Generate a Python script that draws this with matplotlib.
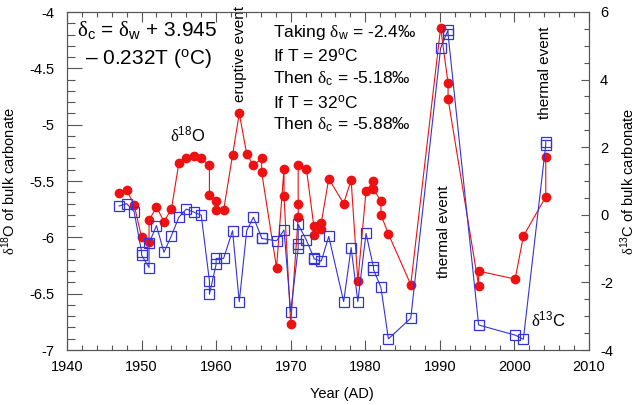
import matplotlib
matplotlib.use("Agg")
import matplotlib.pyplot as plt
from matplotlib.ticker import MultipleLocator

plt.rcParams['font.family'] = ['Liberation Sans', 'DejaVu Sans']
plt.rcParams['mathtext.fontset'] = 'custom'
plt.rcParams['mathtext.rm'] = 'Liberation Serif'
plt.rcParams['mathtext.sf'] = 'Liberation Sans'
plt.rcParams['mathtext.it'] = 'Liberation Sans:italic'

# delta 18O (left axis)
o18_year = [1947.0, 1948.0, 1949.0, 1950.0, 1951.0, 1951.0, 1952.0, 1953.0, 1954.0,
            1955.0, 1956.0, 1957.0, 1958.0, 1959.1, 1959.1, 1960.0, 1960.0, 1961.0,
            1962.2, 1963.1, 1964.1, 1965.0, 1966.1, 1966.1, 1968.1, 1969.1, 1969.1,
            1970.0, 1971.0, 1971.0, 1971.0, 1972.1, 1973.1, 1973.1, 1974.1, 1974.1,
            1975.1, 1977.1, 1978.1, 1979.0, 1980.1, 1981.1, 1981.1, 1982.1, 1982.1,
            1983.1, 1986.1, 1990.1, 1991.1, 1991.1, 1995.2, 1995.2, 2000.1, 2001.2,
            2004.2, 2004.2]
o18_val = [-5.61, -5.58, -5.71, -6.00, -6.04, -5.85, -5.73, -5.86, -5.75,
           -5.34, -5.30, -5.28, -5.30, -5.36, -5.62, -5.68, -5.76, -5.76,
           -5.27, -4.90, -5.26, -5.36, -5.30, -5.42, -6.27, -5.39, -5.63,
           -6.77, -5.82, -5.70, -5.36, -5.39, -5.90, -5.98, -5.93, -5.87,
           -5.48, -5.70, -5.49, -6.39, -5.59, -5.50, -5.57, -5.68, -5.80,
           -5.97, -6.42, -4.14, -4.63, -4.77, -6.43, -6.30, -6.37, -5.99,
           -5.64, -5.29]

# delta 13C (right axis)
c13_year = [1947.0, 1948.0, 1949.0, 1950.0, 1950.0, 1951.0, 1951.0, 1952.0, 1953.0,
            1954.0, 1955.0, 1956.0, 1957.0, 1958.0, 1959.1, 1959.1, 1960.0, 1960.0,
            1961.0, 1962.2, 1963.1, 1964.1, 1965.0, 1966.1, 1966.1, 1968.1, 1969.1,
            1970.0, 1971.0, 1971.0, 1971.0, 1972.1, 1973.1, 1973.1, 1974.1, 1975.1,
            1977.1, 1978.1, 1979.0, 1980.1, 1981.1, 1981.1, 1982.1, 1983.1, 1986.1,
            1990.1, 1991.1, 1991.1, 1995.2, 2000.1, 2001.2, 2004.2, 2004.2]
c13_val = [0.26, 0.33, 0.09, -1.09, -1.19, -1.56, -0.84, -0.32, -1.11,
           -0.62, -0.07, 0.17, 0.08, -0.01, -1.96, -2.35, -1.46, -1.29,
           -1.29, -0.47, -2.57, -0.47, -0.07, -0.68, -0.70, -0.77, -0.45,
           -2.87, -0.99, -0.87, -0.28, -0.75, -1.27, -1.30, -1.37, -0.64,
           -2.57, -0.97, -2.57, -0.55, -1.55, -1.62, -2.15, -3.67, -3.06,
           4.93, 5.47, 5.35, -3.26, -3.56, -3.68, 2.07, 2.16]

red = '#ee1111'
blue = '#3333dd'

fig = plt.figure(figsize=(6.39, 4.05), dpi=100)
ax = fig.add_axes([67 / 639, 1 - 350 / 405, 522 / 639, 338 / 405])
ax2 = ax.twinx()

ax.plot(o18_year, o18_val, '-', color=red, lw=0.8)
ax.plot(o18_year, o18_val, 'o', color=red, ms=6, mec=red)
ax2.plot(c13_year, c13_val, '-', color=blue, lw=0.8)
ax2.plot(c13_year, c13_val, 's', mfc='none', mec=blue, ms=6.5, mew=0.9)

ax.set_xlim(1940, 2010)
ax.set_ylim(-7, -4)
ax2.set_ylim(-4, 6)

ax.xaxis.set_major_locator(MultipleLocator(10))
ax.xaxis.set_minor_locator(MultipleLocator(2))
ax.yaxis.set_major_locator(MultipleLocator(0.5))
ax.yaxis.set_minor_locator(MultipleLocator(0.1))
ax2.yaxis.set_major_locator(MultipleLocator(2))
ax2.yaxis.set_minor_locator(MultipleLocator(0.5))
ax.yaxis.set_major_formatter(plt.FuncFormatter(lambda v, p: f'{v:g}'))
ax2.yaxis.set_major_formatter(plt.FuncFormatter(lambda v, p: f'{v:g}'))

ax.tick_params(axis='x', which='both', direction='in', top=True, labelsize=10.5, pad=7)
ax.tick_params(axis='x', which='major', length=7, width=0.8)
ax.tick_params(axis='x', which='minor', length=3.5, width=0.8)
ax.tick_params(axis='y', which='both', direction='in', right=False, labelsize=10.5, pad=9)
ax.tick_params(axis='y', which='major', length=11, width=0.8)
ax.tick_params(axis='y', which='minor', length=6, width=0.8)
ax2.tick_params(axis='y', which='both', direction='in', labelsize=10.5, pad=8)
ax2.tick_params(axis='y', which='major', length=6, width=0.8)
ax2.tick_params(axis='y', which='minor', length=3.5, width=0.8)
for a in (ax, ax2):
    for s in a.spines.values():
        s.set_color('#555555')
        s.set_linewidth(0.8)
ax.tick_params(which='both', color='#555555')
ax2.tick_params(which='both', color='#555555')

ax.set_xlabel('Year (AD)', fontsize=10.5)
ax.xaxis.set_label_coords(0.527, -0.11)
ax.set_ylabel(r'$\mathrm{\delta}^{\mathsf{18}}$O of bulk carbonate', fontsize=10.5)
ax.yaxis.set_label_coords(-0.094, 0.5)
ax2.set_ylabel(r'$\mathrm{\delta}^{\mathsf{13}}$C of bulk carbonate', fontsize=10.5,
               rotation=90)
ax2.yaxis.set_label_coords(1.057, 0.5)

# annotations
ax.text(1941.4, -4.17, r'$\mathrm{\delta}_{\mathsf{c}}$ = $\mathrm{\delta}_{\mathsf{w}}$ + 3.945',
        fontsize=15, va='center', ha='left')
ax.text(1942.4, -4.42, '\u2013 0.232T (' + r'$^{\mathsf{o}}$' + 'C)',
        fontsize=15, va='center', ha='left')

lines = [r'Taking $\mathrm{\delta}_{\mathsf{w}}$ = -2.4‰',
         r'If T = 29$^{\mathsf{o}}$C',
         r'Then $\mathrm{\delta}_{\mathsf{c}}$ = -5.18‰',
         r'If T = 32$^{\mathsf{o}}$C',
         r'Then $\mathrm{\delta}_{\mathsf{c}}$ = -5.88‰']
line_y = [-4.18, -4.385, -4.59, -4.80, -5.00]
for t, yv in zip(lines, line_y):
    ax.text(1967.6, yv, t, fontsize=12.5, va='center', ha='left')

ax.text(1963.2, -4.80, 'eruptive event', rotation=90, fontsize=11,
        ha='center', va='bottom')
ax.text(1990.5, -5.95, 'thermal event', rotation=90, fontsize=11,
        ha='center', va='center')
ax.text(2004.1, -4.54, 'thermal event', rotation=90, fontsize=11,
        ha='center', va='center')
ax.text(1956.2, -5.09, r'$\mathrm{\delta}^{\mathsf{18}}$O', fontsize=12,
        ha='center', va='center')
ax.text(2004.6, -6.73, r'$\mathrm{\delta}^{\mathsf{13}}$C', fontsize=12,
        ha='center', va='center')

fig.savefig('out.png', dpi=100)
